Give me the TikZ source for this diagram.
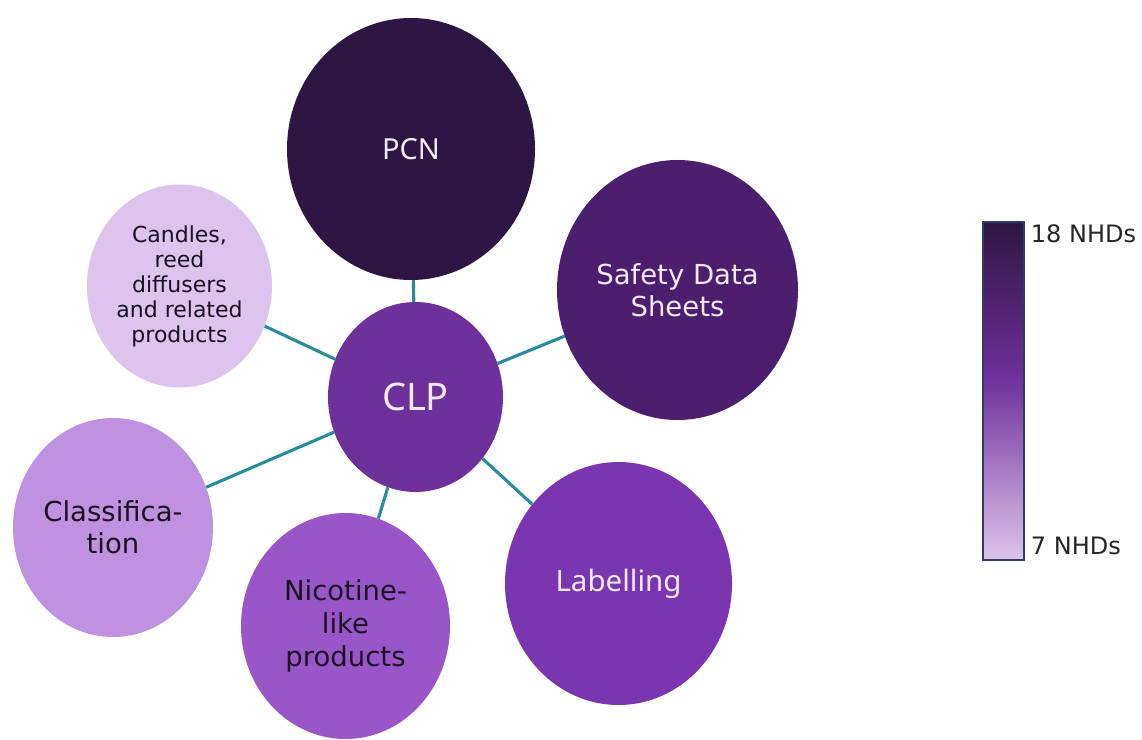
\documentclass[tikz,border=0pt]{standalone}
\usepackage{fontspec}
\setmainfont{DejaVu Sans}
\newfontfamily\uifont{Noto Sans}
\usetikzlibrary{shapes.geometric}

% colour scale from 7 to 18 NHDs
\definecolor{nhdA}{HTML}{2D1643}
\definecolor{nhdB}{HTML}{4C1F6E}
\definecolor{nhdC}{HTML}{6E309B}
\definecolor{nhdD}{HTML}{7B35B0}
\definecolor{nhdE}{HTML}{9A55C8}
\definecolor{nhdF}{HTML}{BE92E0}
\definecolor{nhdG}{HTML}{DCC4EC}
\definecolor{linkteal}{HTML}{268C9B}
\definecolor{darktext}{HTML}{1A1222}
\definecolor{lighttext}{HTML}{F2EAF7}
\definecolor{barframe}{HTML}{2F3A66}

\pgfdeclareverticalshading{nhdbar}{100bp}{%
  color(0bp)=(nhdG); color(25bp)=(nhdG); color(52bp)=(nhdC);
  color(75bp)=(nhdA); color(100bp)=(nhdA)}

\tikzset{
  bubble/.style={ellipse, inner sep=0pt, align=center},
  darkbubble/.style={bubble, text=lighttext},
  lightbubble/.style={bubble, text=darktext},
  link/.style={draw=linkteal, line width=3.1pt},
  scalelabel/.style={anchor=west, inner sep=0pt, text=black!85,
    font=\fontsize{24}{28}\selectfont},
}

\begin{document}
\begin{tikzpicture}[x=1pt,y=-1pt]
\useasboundingbox (0,0) rectangle (1142,739);

% topic bubbles
\node (pcn) [darkbubble, fill=nhdA, minimum width=248pt, minimum height=262pt,
  font=\uifont\fontsize{29}{34}\selectfont] at (411,149) {PCN};
\node (sds) [darkbubble, fill=nhdB, minimum width=241pt, minimum height=260pt,
  font=\fontsize{27.5}{32}\selectfont] at (677.5,290) {Safety Data\\Sheets};
\node (clp) [darkbubble, fill=nhdC, minimum width=175pt, minimum height=190pt,
  font=\uifont\fontsize{38}{42}\selectfont] at (415.5,397) {CLP};
\node (lab) [darkbubble, fill=nhdD, minimum width=227pt, minimum height=243pt,
  font=\uifont\fontsize{29.5}{34}\selectfont] at (618.5,583.5) {Labelling};
\node (nic) [lightbubble, fill=nhdE, minimum width=209pt, minimum height=226pt,
  font=\fontsize{27.5}{33}\selectfont] at (345.5,626) {Nicotine-\\like\\products};
\node (cls) [lightbubble, fill=nhdF, minimum width=200pt, minimum height=219pt,
  font=\fontsize{27.5}{32}\selectfont] at (113,527.5) {Classifica-\\tion};
\node (cnd) [lightbubble, fill=nhdG, minimum width=185pt, minimum height=203pt,
  font=\fontsize{22}{25}\selectfont] at (179.5,286) {Candles,\\reed\\diffusers\\and related\\products};

% links from CLP to the other topics
\foreach \t in {pcn,sds,lab,nic,cls,cnd}
  \draw[link] (clp) -- (\t);

% colour scale
\node (bar) [draw=barframe, line width=1.5pt, shading=nhdbar,
  minimum width=41pt, minimum height=338pt, inner sep=0pt] at (1003.5,391) {};
\node (hi) [scalelabel] at ([xshift=6pt,yshift=-13pt]bar.north east) {18 NHDs};
\node (lo) [scalelabel] at ([xshift=6pt,yshift=15pt]bar.south east) {7 NHDs};
\end{tikzpicture}
\end{document}
